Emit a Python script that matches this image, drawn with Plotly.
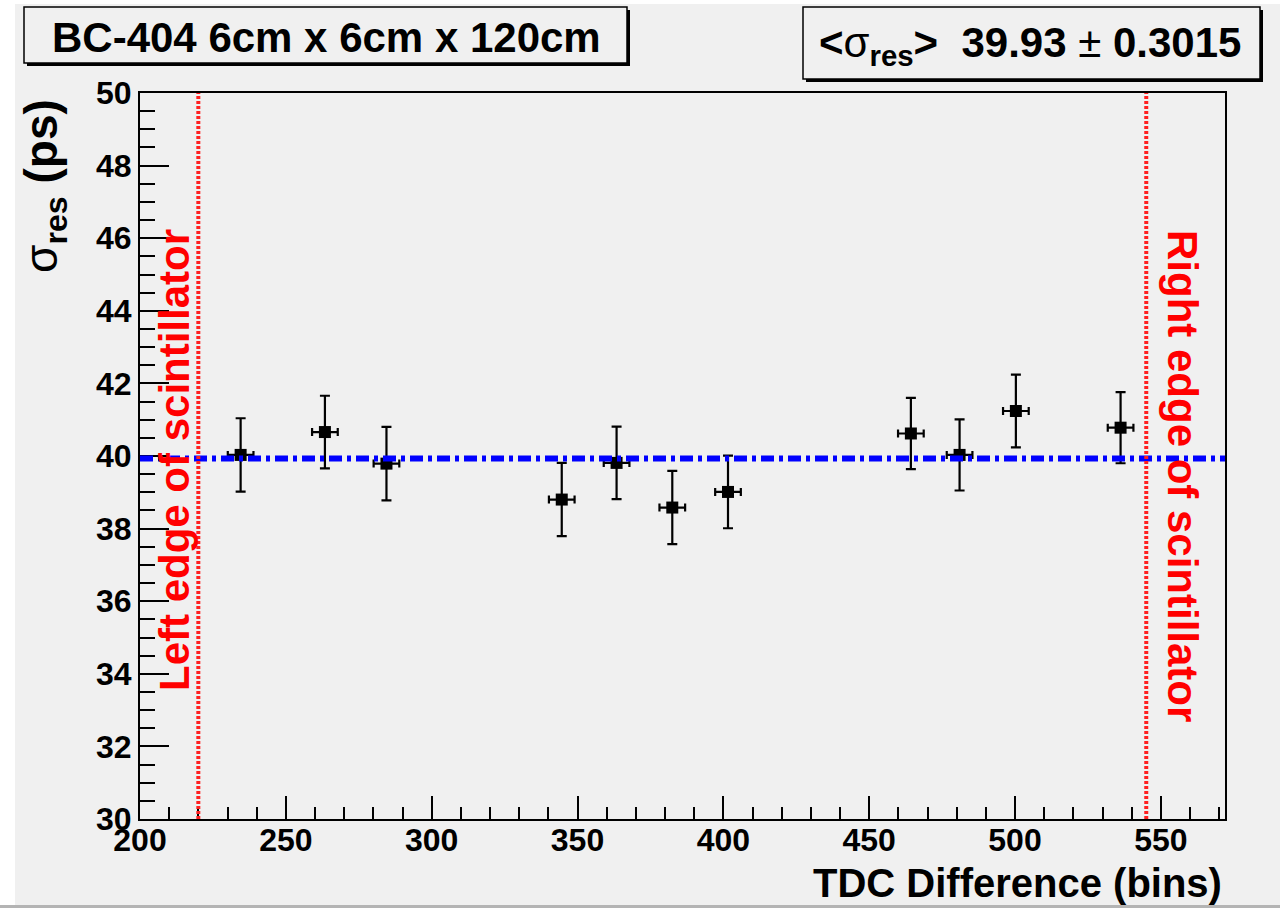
import plotly.graph_objects as go

# Time resolution versus TDC difference across the bar
tdc_bins = [234.5, 263.4, 284.5, 344.6, 363.4, 382.5, 401.6, 464.3, 481.0, 500.3, 536.2]
sigma_res = [40.03, 40.66, 39.79, 38.80, 39.81, 38.58, 39.01, 40.62, 40.03, 41.24, 40.78]
sigma_err = [1.01, 1.00, 1.01, 1.01, 1.00, 1.01, 1.00, 0.98, 0.98, 1.00, 0.98]
bin_err = [4.4, 4.4, 4.4, 4.4, 4.4, 4.4, 4.4, 4.4, 4.4, 4.4, 4.4]

mean_sigma = 39.93
mean_sigma_err = 0.3015
left_edge = 220
right_edge = 545

x_range = [200, 572]
y_range = [30, 50]
x_ticks = [200, 250, 300, 350, 400, 450, 500, 550]
y_ticks = [30, 32, 34, 36, 38, 40, 42, 44, 46, 48, 50]

W, H = 1280, 908
L, R, T, B = 140, 1225, 93, 819
BG = "#f0f0f0"
FONT = "Liberation Sans, Arial, Helvetica, sans-serif"


def px(xp):
    return (xp - L) / (R - L)


def py(yp):
    return (B - yp) / (B - T)


fig = go.Figure()

fig.add_trace(go.Scatter(
    x=tdc_bins, y=sigma_res, mode="markers",
    marker=dict(symbol="square", size=12, color="black"),
    error_y=dict(type="data", array=sigma_err, color="black", thickness=2.2, width=5),
    error_x=dict(type="data", array=bin_err, color="black", thickness=2.2, width=4),
    showlegend=False, cliponaxis=False,
))

shapes = []
# page strips
shapes.append(dict(type="rect", xref="paper", yref="paper", x0=px(0), x1=px(15), y0=py(H), y1=py(0),
                   fillcolor="white", line=dict(width=0), layer="below"))
shapes.append(dict(type="rect", xref="paper", yref="paper", x0=px(0), x1=px(W), y0=py(4), y1=py(0),
                   fillcolor="white", line=dict(width=0), layer="below"))
shapes.append(dict(type="rect", xref="paper", yref="paper", x0=px(0), x1=px(W), y0=py(H), y1=py(905),
                   fillcolor="#b4b4b4", line=dict(width=0), layer="below"))

# mean resolution line
shapes.append(dict(type="line", xref="x", yref="y", x0=x_range[0], x1=x_range[1],
                   y0=mean_sigma, y1=mean_sigma,
                   line=dict(color="#0000ff", width=6, dash="13px,5px,4px,5px")))
# scintillator edges
for edge in (left_edge, right_edge):
    shapes.append(dict(type="line", xref="x", yref="y", x0=edge, x1=edge,
                       y0=y_range[0], y1=y_range[1],
                       line=dict(color="#ff2020", width=4, dash="3px,2px")))

# header boxes with drop shadows
for (x0, y0, x1, y1) in [(24, 7, 627, 63), (803, 7, 1260, 79)]:
    shapes.append(dict(type="rect", xref="paper", yref="paper",
                       x0=px(x0 + 3), x1=px(x1 + 3), y0=py(y1 + 3), y1=py(y0 + 3),
                       fillcolor="black", line=dict(width=0)))
    shapes.append(dict(type="rect", xref="paper", yref="paper",
                       x0=px(x0), x1=px(x1), y0=py(y1), y1=py(y0),
                       fillcolor=BG, line=dict(color="black", width=1.5)))

annotations = [
    dict(text="<b>BC-404 6cm x 6cm x 120cm</b>", xref="paper", yref="paper",
         x=px(326), y=py(37), xanchor="center", yanchor="middle", showarrow=False,
         font=dict(family=FONT, size=42, color="black")),
    dict(text="<b>&lt;</b>σ<sub><b>res</b></sub><b>&gt;  %.2f</b> ± <b>%.4f</b>" % (mean_sigma, mean_sigma_err),
         xref="paper", yref="paper",
         x=px(1030), y=py(45), xanchor="center", yanchor="middle", showarrow=False,
         font=dict(family=FONT, size=42, color="black")),
    dict(text="σ<sub><b>res</b></sub><b> (ps)</b>", xref="paper", yref="paper",
         x=px(44), y=py(186), xanchor="center", yanchor="middle", textangle=-90, showarrow=False,
         font=dict(family=FONT, size=46, color="black")),
    dict(text="<b>TDC Difference (bins)</b>", xref="paper", yref="paper",
         x=px(1224), y=py(883), xanchor="right", yanchor="middle", showarrow=False,
         font=dict(family=FONT, size=40, color="black")),
    dict(text="<b>Left edge of scintillator</b>", xref="paper", yref="paper",
         x=px(174), y=py(460), xanchor="center", yanchor="middle", textangle=-90, showarrow=False,
         font=dict(family=FONT, size=42, color="#ff0000")),
    dict(text="<b>Right edge of scintillator</b>", xref="paper", yref="paper",
         x=px(1183), y=py(476), xanchor="center", yanchor="middle", textangle=90, showarrow=False,
         font=dict(family=FONT, size=42, color="#ff0000")),
]

fig.update_layout(
    width=W, height=H,
    margin=dict(l=L, r=W - R, t=T, b=H - B, pad=0),
    paper_bgcolor=BG, plot_bgcolor=BG,
    shapes=shapes, annotations=annotations,
    font=dict(family=FONT, color="black"),
)

fig.update_xaxes(
    range=x_range, tickvals=x_ticks, ticks="inside", ticklen=23, tickwidth=2, tickcolor="black",
    showline=True, linecolor="black", linewidth=2, mirror=True, showgrid=False, zeroline=False,
    tickfont=dict(family=FONT, size=32, color="black", weight="bold"), ticklabelstandoff=-8,
    minor=dict(dtick=10, ticks="inside", ticklen=12, tickwidth=2, tickcolor="black", showgrid=False),
)
fig.update_yaxes(
    range=y_range, tickvals=y_ticks, ticks="inside", ticklen=29, tickwidth=2, tickcolor="black",
    showline=True, linecolor="black", linewidth=2, mirror=True, showgrid=False, zeroline=False,
    tickfont=dict(family=FONT, size=32, color="black", weight="bold"),
    minor=dict(dtick=0.5, ticks="inside", ticklen=15, tickwidth=2, tickcolor="black", showgrid=False),
)

fig.write_html("out.html")
